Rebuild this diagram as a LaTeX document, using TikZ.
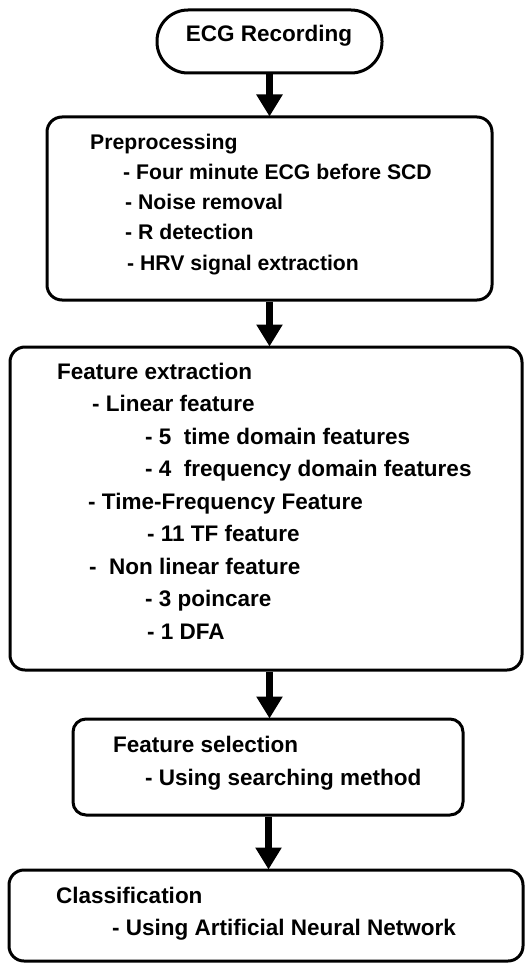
\documentclass[tikz,border=0pt]{standalone}
\usepackage{fontspec}
\setmainfont{Liberation Sans}
\usetikzlibrary{arrows.meta}

\tikzset{
  stage/.style={draw=black, line width=3pt, rounded corners=15pt, inner sep=0pt},
  startbox/.style={draw=black, line width=3pt, rounded corners=31pt, inner sep=0pt},
  small/.style={anchor=base west, inner sep=0pt, font=\fontsize{21.2pt}{25pt}\selectfont\bfseries},
  big/.style={anchor=base west, inner sep=0pt, font=\fontsize{22.5pt}{27pt}\selectfont\bfseries},
  flow/.style={line width=7pt, -{Triangle[width=25pt,length=22pt]}, shorten >=-1pt}
}

\begin{document}
\begin{tikzpicture}[x=1pt, y=-1pt]
\useasboundingbox (0,0) rectangle (525,963);

% stage boxes
\node[startbox, minimum width=225pt, minimum height=63pt] (ecg) at (269.5,41.5) {};
\node[stage, minimum width=445pt, minimum height=183pt] (pre) at (269.5,208.5) {};
\node[stage, minimum width=512pt, minimum height=323pt] (fex) at (266,508.5) {};
\node[stage, rounded corners=13pt, minimum width=390pt, minimum height=96pt] (fsel) at (268,767) {};
\node[stage, minimum width=514pt, minimum height=91pt] (cls) at (266,915.5) {};

% start label
\node[big, anchor=base] (ecgt) at (269,41.7) {ECG Recording};

% preprocessing
\node[small] (p0) at (90,149) {Preprocessing};
\node[small] (p1) at (123,179) {- Four minute ECG before SCD};
\node[small] (p2) at (125,209.3) {- Noise removal};
\node[small] (p3) at (125,239.5) {- R detection};
\node[small] (p4) at (127,270) {- HRV signal extraction};

% feature extraction
\node[big] (f0) at (57,379) {Feature extraction};
\node[big] (f1) at (92,411.5) {- Linear feature};
\node[big] (f2) at (145,444) {- 5\ \ time domain features};
\node[big] (f3) at (145,476.5) {- 4\ \ frequency domain features};
\node[big] (f4) at (88,509) {- Time-Frequency Feature};
\node[big] (f5) at (147,541.5) {- 11 TF feature};
\node[big] (f6) at (89,574) {-\ \ Non linear feature};
\node[big] (f7) at (145,606.5) {- 3 poincare};
\node[big] (f8) at (147,639) {- 1 DFA};

% feature selection
\node[big] (s0) at (113,752) {Feature selection};
\node[big] (s1) at (145,785) {- Using searching method};

% classification
\node[big] (c0) at (56,903) {Classification};
\node[big] (c1) at (112,935) {- Using Artificial Neural Network};

% flow arrows
\draw[flow] (ecg.south -| 269.5,0) -- (pre.north -| 269.5,0);
\draw[flow] (pre.south -| 269.5,0) -- (fex.north -| 269.5,0);
\draw[flow] (fex.south -| 269.5,0) -- (fsel.north -| 269.5,0);
\draw[flow] (fsel.south -| 268.5,0) -- (cls.north -| 268.5,0);
\end{tikzpicture}
\end{document}
